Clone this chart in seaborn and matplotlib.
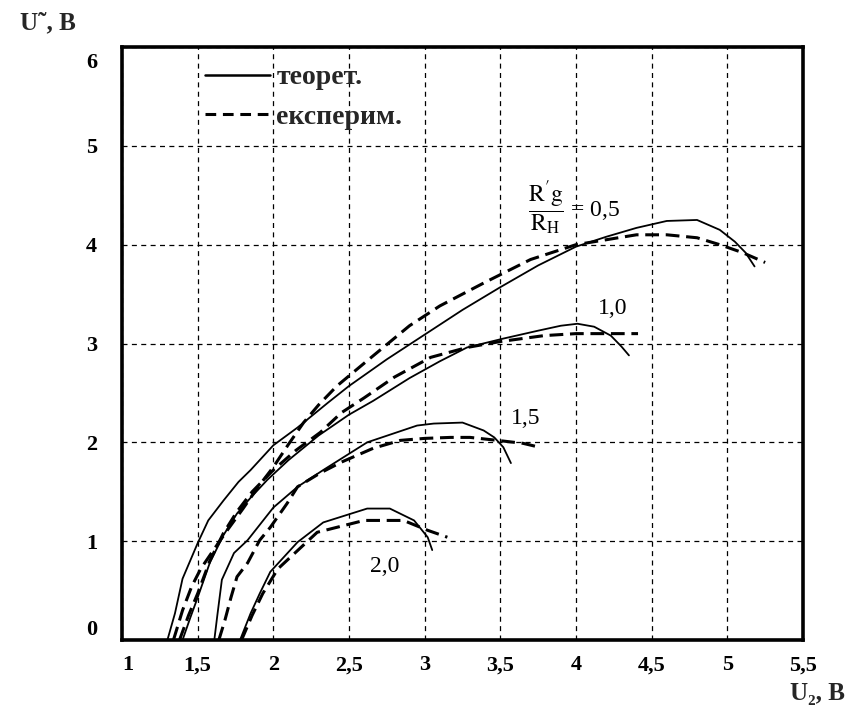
import matplotlib
matplotlib.use("Agg")
import matplotlib.pyplot as plt
from matplotlib.lines import Line2D
from matplotlib.transforms import ScaledTranslation
import seaborn as sns
import pandas as pd

# Load ratio R'g/R_H = 0,5 ... 2,0 : theoretical (solid) and experimental (dashed)
theor_05_x = [1.30, 1.35, 1.40, 1.50, 1.57, 1.67, 1.77, 1.85, 2.00, 2.16, 2.36, 2.50, 2.75, 3.00,
              3.25, 3.50, 3.75, 4.00, 4.20, 4.40, 4.60, 4.80, 4.95, 5.05, 5.12, 5.18]
theor_05_y = [0.00, 0.27, 0.62, 0.98, 1.21, 1.41, 1.60, 1.72, 1.97, 2.15, 2.40, 2.57, 2.84, 3.09,
              3.34, 3.57, 3.79, 3.98, 4.08, 4.17, 4.24, 4.25, 4.15, 4.03, 3.92, 3.78]
exp_05_x = [1.34, 1.40, 1.46, 1.52, 1.60, 1.70, 1.80, 1.90, 2.00, 2.10, 2.20, 2.30, 2.42, 2.60,
            2.90, 3.10, 3.40, 3.70, 4.00, 4.20, 4.40, 4.60, 4.80, 4.95, 5.10, 5.25]
exp_05_y = [0.00, 0.30, 0.54, 0.72, 0.90, 1.12, 1.33, 1.55, 1.75, 1.98, 2.20, 2.38, 2.57, 2.80,
            3.18, 3.38, 3.62, 3.85, 4.00, 4.05, 4.10, 4.10, 4.07, 4.00, 3.92, 3.82]

theor_10_x = [1.40, 1.45, 1.50, 1.58, 1.67, 1.76, 1.85, 1.96, 2.10, 2.30, 2.50, 2.66, 2.90, 3.10,
              3.28, 3.52, 3.75, 3.90, 4.01, 4.12, 4.23, 4.30, 4.35]
theor_10_y = [0.00, 0.22, 0.43, 0.78, 1.06, 1.28, 1.44, 1.62, 1.82, 2.07, 2.28, 2.42, 2.65, 2.82,
              2.96, 3.05, 3.13, 3.18, 3.20, 3.17, 3.08, 2.97, 2.88]
exp_10_x = [1.38, 1.44, 1.50, 1.58, 1.67, 1.76, 1.86, 2.00, 2.15, 2.31, 2.45, 2.60, 2.80, 3.04,
            3.28, 3.50, 3.79, 4.00, 4.20, 4.41]
exp_10_y = [0.00, 0.25, 0.47, 0.80, 1.08, 1.30, 1.50, 1.72, 1.92, 2.10, 2.30, 2.45, 2.66, 2.86,
            2.96, 3.02, 3.08, 3.10, 3.10, 3.10]

theor_15_x = [1.61, 1.63, 1.66, 1.74, 1.83, 2.00, 2.16, 2.33, 2.62, 2.95, 3.06, 3.25, 3.39, 3.46,
              3.52, 3.57]
theor_15_y = [0.00, 0.25, 0.61, 0.88, 1.01, 1.34, 1.55, 1.72, 2.00, 2.17, 2.19, 2.20, 2.12, 2.05,
              1.95, 1.79]
exp_15_x = [1.64, 1.68, 1.72, 1.76, 1.83, 1.91, 1.98, 2.09, 2.16, 2.31, 2.45, 2.66, 2.84, 3.00,
            3.17, 3.30, 3.48, 3.65, 3.76]
exp_15_y = [0.00, 0.20, 0.43, 0.64, 0.78, 1.01, 1.14, 1.38, 1.55, 1.69, 1.80, 1.94, 2.02, 2.04,
            2.05, 2.05, 2.02, 1.99, 1.95]

theor_20_x = [1.78, 1.85, 1.91, 1.98, 2.16, 2.33, 2.62, 2.77, 2.93, 3.02, 3.05]
theor_20_y = [0.00, 0.27, 0.47, 0.69, 0.99, 1.19, 1.33, 1.33, 1.21, 1.04, 0.91]
exp_20_x = [1.79, 1.86, 1.93, 2.03, 2.29, 2.60, 2.86, 3.02, 3.15]
exp_20_y = [0.00, 0.25, 0.47, 0.72, 1.09, 1.21, 1.21, 1.11, 1.04]

x_ticks = [1, 1.5, 2, 2.5, 3, 3.5, 4, 4.5, 5, 5.5]
x_tick_labels = ["1", "1,5", "2", "2,5", "3", "3,5", "4", "4,5", "5", "5,5"]
y_ticks = [0, 1, 2, 3, 4, 5, 6]
y_tick_labels = ["0", "1", "2", "3", "4", "5", "6"]
legend_labels = ["теорет.", "експерим."]
curve_labels = ["1,0", "1,5", "2,0"]

sns.set_theme(style="white")
SERIF = ["Liberation Serif", "DejaVu Serif"]
plt.rcParams["font.family"] = SERIF
plt.rcParams["mathtext.fontset"] = "stix"

fig = plt.figure(figsize=(8.49, 7.09), dpi=100)
ax = fig.add_axes([0.1437, 0.0973, 0.8021, 0.8364])

curves = [
    ("0,5", "теор", theor_05_x, theor_05_y), ("0,5", "експ", exp_05_x, exp_05_y),
    ("1,0", "теор", theor_10_x, theor_10_y), ("1,0", "експ", exp_10_x, exp_10_y),
    ("1,5", "теор", theor_15_x, theor_15_y), ("1,5", "експ", exp_15_x, exp_15_y),
    ("2,0", "теор", theor_20_x, theor_20_y), ("2,0", "експ", exp_20_x, exp_20_y),
]
frames = []
for ratio, kind, xs, ys in curves:
    frames.append(pd.DataFrame({"U2": xs, "U": ys, "ratio": ratio, "kind": kind}))
df = pd.concat(frames, ignore_index=True)

for (ratio, kind), part in df.groupby(["ratio", "kind"], sort=False):
    if kind == "теор":
        sns.lineplot(data=part, x="U2", y="U", ax=ax, color="black", lw=1.3,
                     estimator=None, sort=False)
    else:
        sns.lineplot(data=part, x="U2", y="U", ax=ax, color="black", lw=2.2,
                     estimator=None, sort=False, dashes=False,
                     linestyle=(0, (4.5, 2.2)))

ax.set_xlim(1, 5.5)
ax.set_ylim(0, 6)
ax.set_xticks(x_ticks)
ax.set_xticklabels(x_tick_labels)
ax.set_yticks(y_ticks)
ax.set_yticklabels(y_tick_labels)
ax.set_xlabel("")
ax.set_ylabel("")

# dashed grid at every tick
ax.grid(True, color="black", lw=0.9, linestyle=(0, (4, 3.5)))
ax.set_axisbelow(True)

for sp in ax.spines.values():
    sp.set_visible(True)
    sp.set_color("black")
    sp.set_linewidth(2.6)

ax.tick_params(axis="both", length=0, labelsize=16, colors="black")
ax.tick_params(axis="x", pad=11)
ax.tick_params(axis="y", pad=18)
for lab in ax.get_xticklabels() + ax.get_yticklabels():
    lab.set_fontweight("bold")
xl = ax.get_xticklabels()
xl[0].set_ha("left")
yl = ax.get_yticklabels()
yl[0].set_va("bottom")
yl[-1].set_va("top")
yl[-1].set_transform(yl[-1].get_transform() + ScaledTranslation(0, -4 / 72, fig.dpi_scale_trans))

handles = [Line2D([], [], color="black", lw=1.8),
           Line2D([], [], color="black", lw=2.2, linestyle=(0, (3.5, 2.2)))]
leg = ax.legend(handles, legend_labels, loc="upper left", bbox_to_anchor=(0.122, 0.97),
                frameon=False, borderpad=0, borderaxespad=0, handlelength=2.35,
                handletextpad=0.22, labelspacing=0.5,
                prop={"family": SERIF, "weight": "bold", "size": 20})

# curve annotations
ax.text(3.99, 4.37, r"$\dfrac{\mathrm{R}'\mathrm{g}}{\mathrm{R}_{\mathrm{H}}}$ = 0,5",
        ha="center", va="center", fontsize=17, color="black")
ax.text(4.245, 3.35, curve_labels[0], ha="center", va="center", fontsize=17, color="black")
ax.text(3.67, 2.24, curve_labels[1], ha="center", va="center", fontsize=17, color="black")
ax.text(2.735, 0.74, curve_labels[2], ha="center", va="center", fontsize=17, color="black")

# axis titles
fig.text(0.0565, 0.9676, "U˜, B", ha="center", va="center", fontsize=18, fontweight="bold",
         family=SERIF)
fig.text(0.995, 0.006, "U₂, B", ha="right", va="bottom", fontsize=18, fontweight="bold",
         family=SERIF)

fig.savefig("out.png", dpi=100, facecolor="white")
